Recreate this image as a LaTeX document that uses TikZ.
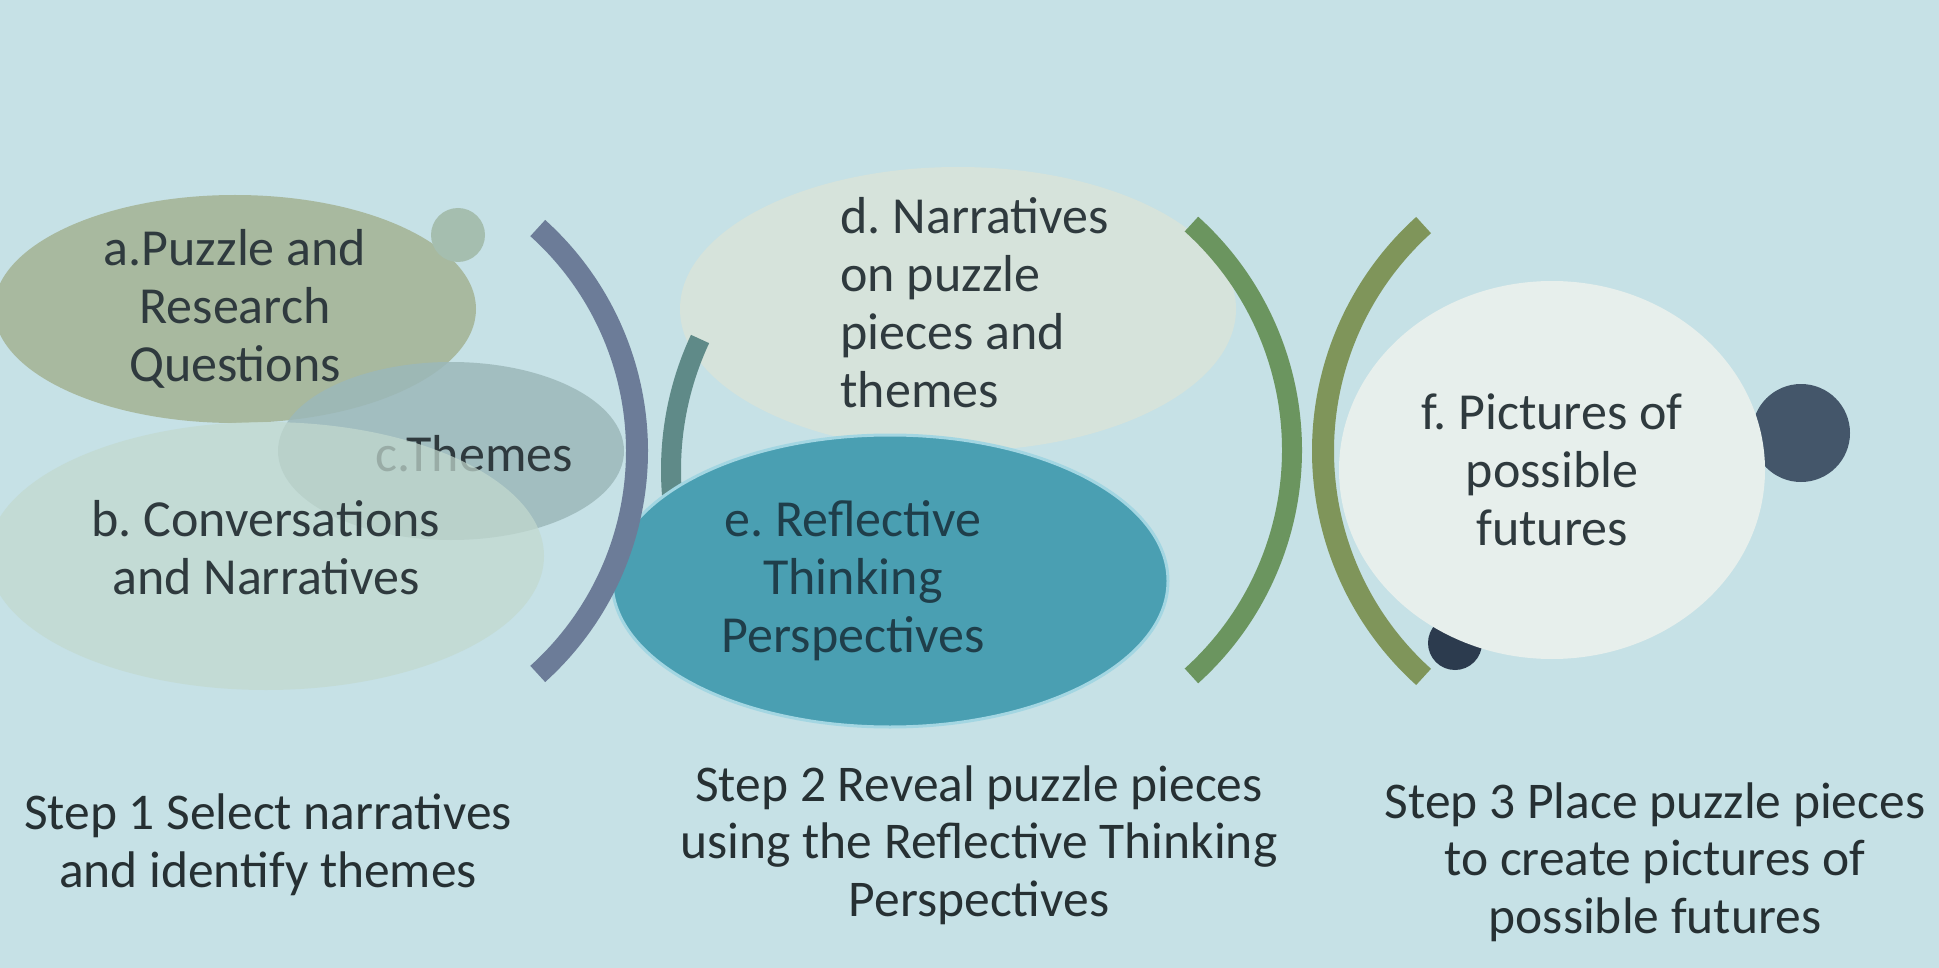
\documentclass[tikz,border=0pt]{standalone}
\usepackage{fontspec}
\setmainfont{Carlito}
\frenchspacing
\usetikzlibrary{shapes.geometric}
\definecolor{bgc}{HTML}{C6E1E6}
\definecolor{acol}{HTML}{A8B99F}
\definecolor{smallc}{HTML}{A5BEAF}
\definecolor{ccol}{HTML}{9CB8BA}
\definecolor{bcol}{HTML}{C2D9CF}
\definecolor{dcol}{HTML}{D6E3DB}
\definecolor{ecol}{HTML}{4A9FB2}
\definecolor{eedge}{HTML}{A3D6E2}
\definecolor{fcol}{HTML}{E7EFEC}
\definecolor{arcA}{HTML}{6C7C98}
\definecolor{arcB}{HTML}{5F8A88}
\definecolor{arcC}{HTML}{6B955F}
\definecolor{arcD}{HTML}{7F955A}
\definecolor{darkA}{HTML}{44566A}
\definecolor{darkB}{HTML}{2C3B4E}
\definecolor{txt}{HTML}{2F3A3E}
\definecolor{stxt}{HTML}{263033}
\definecolor{etxt}{HTML}{1F3E4A}
\begin{document}
\begin{tikzpicture}[x=1pt,y=-1pt,
  blob/.style={ellipse,inner sep=0pt,draw=none,align=center,text=txt,
    font=\fontsize{52}{58}\selectfont},
  dot/.style={circle,inner sep=0pt,draw=none},
  band/.style={line width=22pt,line cap=butt},
  lbl/.style={text=txt,align=center,font=\fontsize{52}{58}\selectfont},
  steptext/.style={align=center,text=stxt,font=\fontsize{51.5}{57.5}\selectfont}]
\fill[bgc] (0,0) rectangle (1939,968);
\useasboundingbox (0,0) rectangle (1939,968);
% step 1 shapes
\node[blob,fill=acol,minimum width=482pt,minimum height=228pt] (a) at (235,309)
  {a.Puzzle and\\Research\\Questions};
\node[dot,fill=smallc,minimum size=54pt] (sa) at (458,235) {};
\node[blob,fill=ccol,fill opacity=0.85,minimum width=346pt,minimum height=178pt] (c) at (451,451) {};
\node[lbl] (ct) at (474,454) {c.Themes};
\node[blob,fill=bcol,fill opacity=0.72,minimum width=556pt,minimum height=268pt] (b) at (266,556) {};
\node[lbl] (bt) at (266,548) {b. Conversations\\and Narratives};
% step 2 shapes
\node[blob,fill=dcol,minimum width=556pt,minimum height=284pt] (d) at (958,309) {};
\node[lbl,align=left,anchor=west] (dt) at (837,303)
  {d. Narratives\\on puzzle\\pieces and\\themes};
\coordinate (c2) at (981,470);
\draw[band,line width=20pt,arcB] (c2) ++(157:310) arc[start angle=157,end angle=205,radius=310];
\node[blob,fill=ecol,draw=eedge,line width=3pt,minimum width=556pt,minimum height=292pt] (e) at (890,581) {};
\node[lbl,text=etxt] (et) at (853,581) {e. Reflective\\Thinking\\Perspectives};
% step 3 shapes
\node[dot,fill=darkA,minimum size=98pt] (dr) at (1801,433) {};
\node[dot,fill=darkB,minimum size=54pt] (ds) at (1455,643) {};
\node[blob,fill=fcol,minimum width=426pt,minimum height=378pt] (f) at (1552,470)
  {f. Pictures of\\possible\\futures};
% bands
\coordinate (c1) at (337,451);
\draw[band,arcA] (c1) ++(-48:300) arc[start angle=-48,end angle=48,radius=300];
\coordinate (c3) at (988,450);
\draw[band,line width=20pt,arcC] (c3) ++(-48:304) arc[start angle=-48,end angle=48,radius=304];
\coordinate (c4) at (1627,451);
\draw[band,arcD] (c4) ++(132:304) arc[start angle=132,end angle=228,radius=304];
% step captions
\node[steptext] (s1) at (268,845) {Step 1 Select narratives\\and identify themes};
\node[steptext] (s2) at (979,845) {Step 2 Reveal puzzle pieces\\using the Reflective Thinking\\Perspectives};
\node[steptext] (s3) at (1655,862) {Step 3 Place puzzle pieces\\to create pictures of\\possible futures};
\end{tikzpicture}
\end{document}
